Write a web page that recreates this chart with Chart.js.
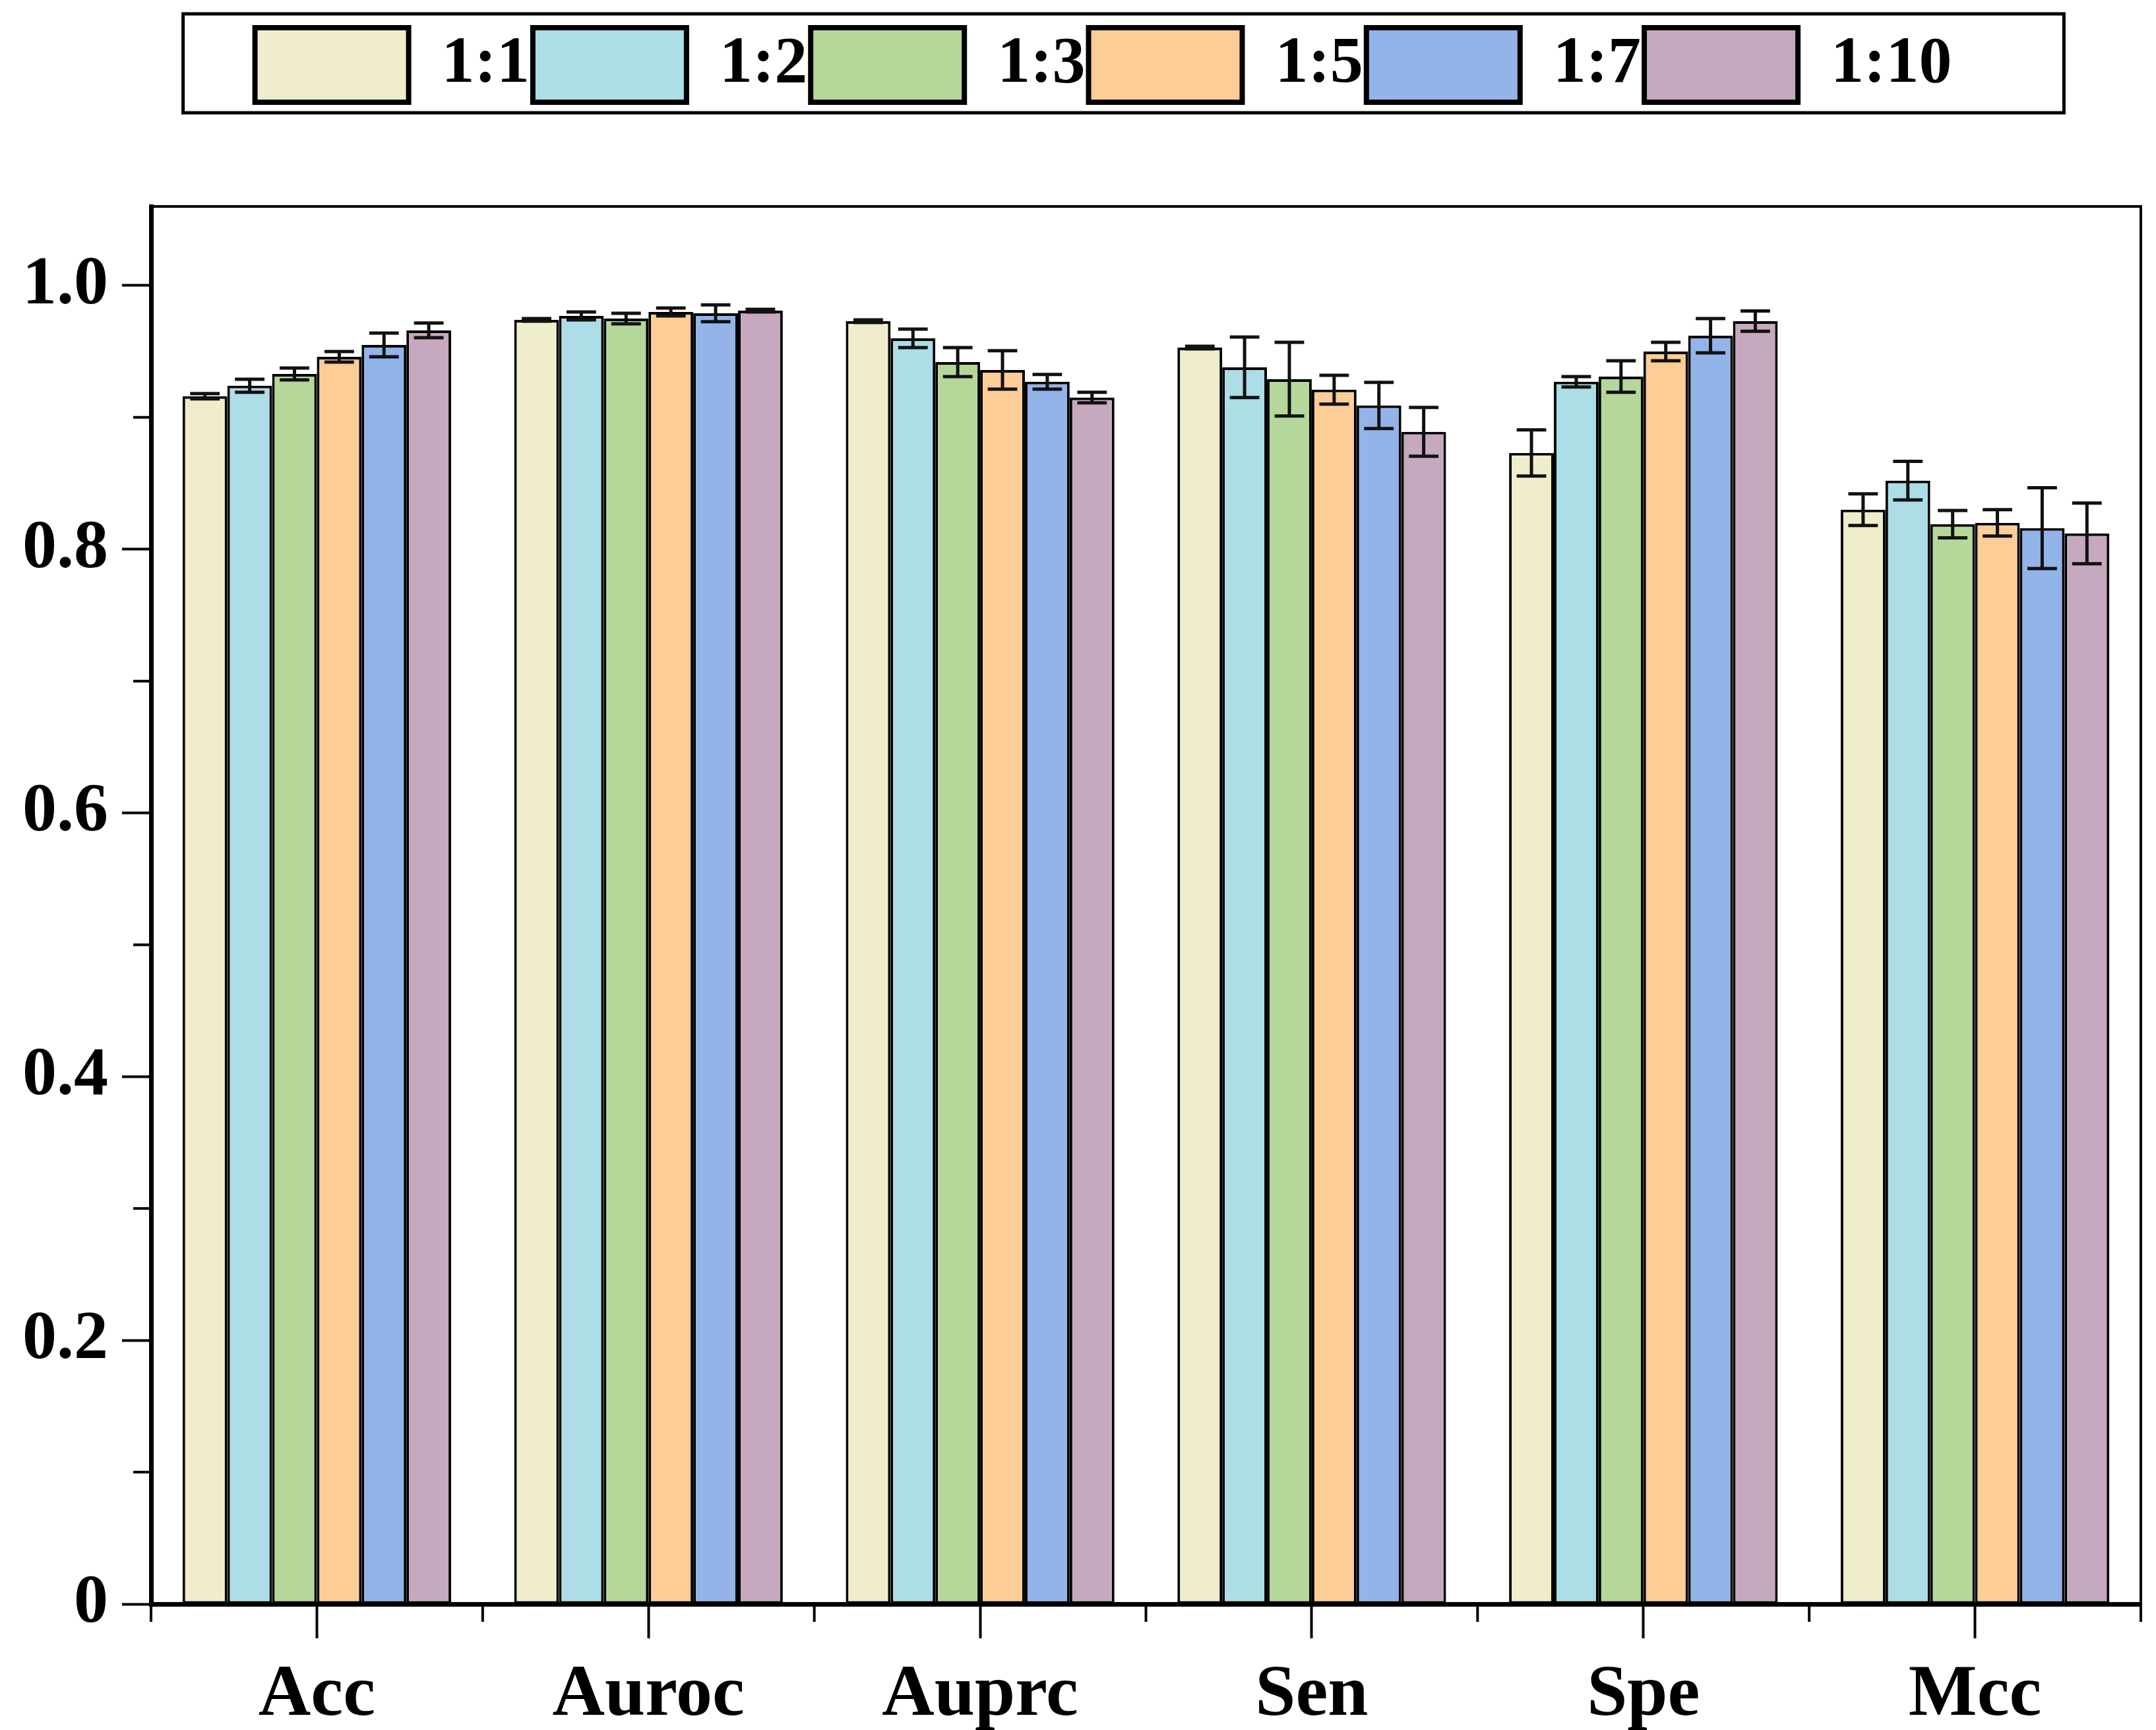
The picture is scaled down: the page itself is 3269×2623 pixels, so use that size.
<!DOCTYPE html>
<html><head><meta charset="utf-8">
<script src="https://cdn.jsdelivr.net/npm/chart.js@4.4.0/dist/chart.umd.min.js"></script>
<style>html,body{margin:0;padding:0;background:#fff;} #wrap{width:3269px;height:2623px;position:relative;background:#fff}</style>
</head><body><div id="wrap"><canvas id="c" width="3269" height="2623"></canvas></div>
<script>
const categories = ['Acc','Auroc','Auprc','Sen','Spe','Mcc'];
const seriesNames = ['1:1','1:2','1:3','1:5','1:7','1:10'];
const seriesColors = ['#EFEDCB','#ADDDE6','#B5D79A','#FCCD97','#93B4E8','#C6A9BE'];
const v11  = [0.916,0.974,0.973,0.953,0.873,0.830];
const v12  = [0.924,0.977,0.960,0.938,0.927,0.852];
const v13  = [0.933,0.975,0.942,0.929,0.931,0.819];
const v15  = [0.946,0.980,0.936,0.921,0.950,0.820];
const v17  = [0.955,0.979,0.927,0.909,0.962,0.816];
const v110 = [0.966,0.981,0.915,0.889,0.973,0.812];
const e11  = [0.002,0.001,0.001,0.001,0.0175,0.012];
const e12  = [0.005,0.003,0.007,0.023,0.004,0.0146];
const e13  = [0.0045,0.004,0.011,0.028,0.012,0.0104];
const e15  = [0.004,0.003,0.0146,0.011,0.007,0.010];
const e17  = [0.009,0.0064,0.0056,0.0175,0.013,0.0306];
const e110 = [0.0056,0.001,0.004,0.0185,0.0077,0.023];
const yTicks = [0,0.2,0.4,0.6,0.8,1.0];
const yTickLabels = ['0','0.2','0.4','0.6','0.8','1.0'];
const yMinorTicks = [0.1,0.3,0.5,0.7,0.9];

const values = [v11,v12,v13,v15,v17,v110];
const errors = [e11,e12,e13,e15,e17,e110];

const datasets = seriesNames.map((name,i)=>({
  label: name,
  data: values[i],
  errors: errors[i],
  backgroundColor: seriesColors[i],
  borderColor: '#000',
  borderWidth: 4,
  borderSkipped: false,
  barPercentage: 1.0,
  categoryPercentage: 0.81
}));

const helperPlugin = {
  id: 'helper',
  afterInit(chart){
    const lg = chart.legend;
    if (lg) {
      const origFit = lg.fit.bind(lg);
      lg.fit = function(){ origFit(); this.height = 276; };
    }
  },
  afterLayout(chart){
    const lg = chart.legend;
    if (lg) { lg.left += 50; lg.right += 50; }
  },
  afterDatasetsDraw(chart){
    const ctx = chart.ctx;
    const ys = chart.scales.y;
    ctx.save();
    ctx.strokeStyle = '#111';
    ctx.lineWidth = 5;
    chart.data.datasets.forEach((ds,i)=>{
      const meta = chart.getDatasetMeta(i);
      meta.data.forEach((bar,j)=>{
        const v = ds.data[j], e = ds.errors[j];
        const yt = ys.getPixelForValue(v+e), yb = ys.getPixelForValue(v-e);
        const cw = bar.width*0.33;
        ctx.beginPath();
        ctx.moveTo(bar.x, yt); ctx.lineTo(bar.x, yb);
        ctx.moveTo(bar.x-cw, yt); ctx.lineTo(bar.x+cw, yt);
        ctx.moveTo(bar.x-cw, yb); ctx.lineTo(bar.x+cw, yb);
        ctx.stroke();
      });
    });
    ctx.restore();
  },
  afterDraw(chart){
    const ctx = chart.ctx;
    const a = chart.chartArea;
    const ys = chart.scales.y, xs = chart.scales.x;
    ctx.save();
    ctx.strokeStyle = '#000';
    ctx.lineWidth = 4;
    ctx.beginPath();
    ctx.moveTo(a.left, a.top); ctx.lineTo(a.right, a.top); ctx.lineTo(a.right, a.bottom);
    ctx.stroke();
    ctx.lineWidth = 4;
    ctx.beginPath();
    yMinorTicks.forEach(v=>{
      const y = ys.getPixelForValue(v);
      ctx.moveTo(a.left-27, y); ctx.lineTo(a.left, y);
    });
    const n = categories.length;
    const bounds = [a.left];
    for (let i=0;i<n-1;i++) bounds.push((xs.getPixelForTick(i)+xs.getPixelForTick(i+1))/2);
    bounds.push(a.right);
    bounds.forEach(x=>{ ctx.moveTo(x, a.bottom); ctx.lineTo(x, a.bottom+27); });
    ctx.stroke();
    const lg = chart.legend;
    if (lg && lg.legendHitBoxes && lg.legendHitBoxes.length) {
      const hb = lg.legendHitBoxes;
      const first = hb[0], last = hb[hb.length-1];
      const l = first.left - 109, r = last.left + last.width + 170;
      const t = first.top - 21, b = first.top + first.height + 16;
      ctx.lineWidth = 5;
      ctx.strokeRect(l, t, r-l, b-t);
    }
    ctx.restore();
  }
};

const chart = new Chart(document.getElementById('c'), {
  type: 'bar',
  data: { labels: categories, datasets },
  options: {
    responsive: false,
    devicePixelRatio: 1,
    animation: false,
    layout: { padding: { top: 37, left: 0, right: 23, bottom: 0 } },
    plugins: {
      legend: {
        position: 'top',
        labels: {
          boxWidth: 233,
          boxHeight: 113,
          padding: 5,
          color: '#000',
          font: { family: 'Liberation Serif', weight: 'bold', size: 100 },
          generateLabels(chart){
            return Chart.defaults.plugins.legend.labels.generateLabels(chart).map(l=>({...l, lineWidth: 8}));
          }
        }
      },
      tooltip: { enabled: false }
    },
    scales: {
      x: {
        offset: true,
        grid: { display: true, offset: false, drawOnChartArea: false, drawTicks: true, tickLength: 52, tickWidth: 4, tickColor: '#000' },
        border: { display: true, color: '#000', width: 7 },
        ticks: { color: '#000', padding: 22, font: { family: 'Liberation Serif', weight: 'bold', size: 110 } },
        afterFit(scale){ scale.height = 191; }
      },
      y: {
        min: 0, max: 1.06,
        afterBuildTicks(scale){ scale.ticks = yTicks.map(v=>({value:v})); },
        grid: { display: true, drawOnChartArea: false, drawTicks: true, tickLength: 44, tickWidth: 4, tickColor: '#000' },
        border: { display: true, color: '#000', width: 7 },
        ticks: {
          color: '#000', padding: 21,
          font: { family: 'Liberation Serif', weight: 'bold', size: 104 },
          callback(value){ const k = yTicks.indexOf(value); return k>=0 ? yTickLabels[k] : ''; }
        },
        afterFit(scale){ scale.width = 229; }
      }
    }
  },
  plugins: [helperPlugin]
});
</script>
</body></html>
